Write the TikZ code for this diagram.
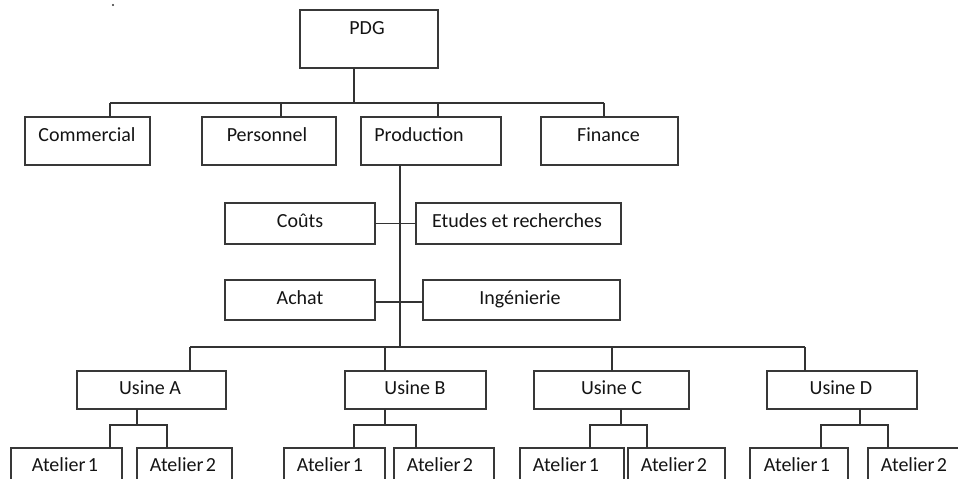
\documentclass[tikz,border=0pt]{standalone}
\usepackage{fontspec}
\setmainfont{Carlito}
\begin{document}
\begin{tikzpicture}[x=1pt,y=-1pt,
  box/.style={draw=black!78,line width=1.1pt,fill=white,rectangle,inner sep=0pt,outer sep=0pt},
  txt/.style={anchor=base,inner sep=0pt,text=black!92,font=\fontsize{20}{24}\selectfont},
  link/.style={draw=black!80,line width=1.1pt}]
\useasboundingbox (0,0) rectangle (958,479);
\clip (0,0) rectangle (958,479);
% stray dot
\fill[black!80] (113,5) circle (1.1);
% top
\node[box,minimum width=138pt,minimum height=58pt] (pdg) at (369,39) {};
\node[txt] (pdgt) at (367,34) {PDG};
\node[box,minimum width=125pt,minimum height=48pt] (comm) at (87.5,141) {};
\node[txt] (commt) at (87,141) {Commercial};
\node[box,minimum width=134pt,minimum height=48pt] (pers) at (269,141) {};
\node[txt] (perst) at (267,141) {Personnel};
\node[box,minimum width=140pt,minimum height=48pt] (prod) at (431,141) {};
\node[txt] (prodt) at (419,141) {Production};
\node[box,minimum width=137pt,minimum height=48pt] (fin) at (609.5,141) {};
\node[txt] (fint) at (608.5,141) {Finance};
% middle
\node[box,minimum width=150pt,minimum height=41pt] (cout) at (300,223.5) {};
\node[txt] (coutt) at (300,227) {Coûts};
\node[box,minimum width=205pt,minimum height=41pt] (etud) at (518.5,223.5) {};
\node[txt] (etudt) at (517,227) {Etudes et recherches};
\node[box,minimum width=150pt,minimum height=40pt] (achat) at (300,300) {};
\node[txt] (achatt) at (300,304) {Achat};
\node[box,minimum width=197pt,minimum height=40pt] (ing) at (521.5,300) {};
\node[txt] (ingt) at (520,304) {Ingénierie};
% usines
\node[box,minimum width=149pt,minimum height=38pt] (usA) at (151.5,390) {};
\node[txt] (usAt) at (150,394) {Usine A};
\node[box,minimum width=141pt,minimum height=38pt] (usB) at (415.5,390) {};
\node[txt] (usBt) at (415,394) {Usine B};
\node[box,minimum width=155pt,minimum height=38pt] (usC) at (611.5,390) {};
\node[txt] (usCt) at (611.5,394) {Usine C};
\node[box,minimum width=150pt,minimum height=38pt] (usD) at (842,390) {};
\node[txt] (usDt) at (841,394) {Usine D};
% ateliers
\node[box,minimum width=111pt,minimum height=62pt] (a1A) at (66.5,479) {};
\node[txt] (a1At) at (65,471) {Atelier\kern0.12em1};
\node[box,minimum width=95pt,minimum height=62pt] (a2A) at (184.5,479) {};
\node[txt] (a2At) at (183,471) {Atelier\kern0.12em2};
\node[box,minimum width=101pt,minimum height=62pt] (a1B) at (334.5,479) {};
\node[txt] (a1Bt) at (330,471) {Atelier\kern0.12em1};
\node[box,minimum width=100pt,minimum height=62pt] (a2B) at (444,479) {};
\node[txt] (a2Bt) at (440,471) {Atelier\kern0.12em2};
\node[box,minimum width=104pt,minimum height=62pt] (a1C) at (572,479) {};
\node[txt] (a1Ct) at (566,471) {Atelier\kern0.12em1};
\node[box,minimum width=97pt,minimum height=62pt] (a2C) at (676.5,479) {};
\node[txt] (a2Ct) at (674,471) {Atelier\kern0.12em2};
\node[box,minimum width=98pt,minimum height=62pt] (a1D) at (799,479) {};
\node[txt] (a1Dt) at (797,471) {Atelier\kern0.12em1};
\node[box,minimum width=122pt,minimum height=62pt] (a2D) at (929,479) {};
\node[txt] (a2Dt) at (914,471) {Atelier\kern0.12em2};
% top connectors
\coordinate (t0) at (354,103);
\coordinate (t1) at (110,103);
\coordinate (t2) at (281,103);
\coordinate (t3) at (438,103);
\coordinate (t4) at (604,103);
\draw[link] (pdg.south -| t0) -- (t0);
\draw[link] (t1) -- (t4);
\draw[link] (t1) -- (t1 |- comm.north);
\draw[link] (t2) -- (t2 |- pers.north);
\draw[link] (t3) -- (t3 |- prod.north);
\draw[link] (t4) -- (t4 |- fin.north);
% production spine
\coordinate (p0) at (400,347);
\draw[link] (prod.south -| p0) -- (p0);
\draw[link] (cout.east) -- (etud.west);
\draw[link] (achat.east |- 0,302) -- (ing.west |- 0,302);
% usine bus
\coordinate (u1) at (190,347);
\coordinate (u2) at (385,347);
\coordinate (u3) at (612,347);
\coordinate (u4) at (805,347);
\draw[link] (u1) -- (u4);
\draw[link] (u1) -- (u1 |- usA.north);
\draw[link] (u2) -- (u2 |- usB.north);
\draw[link] (u3) -- (u3 |- usC.north);
\draw[link] (u4) -- (u4 |- usD.north);
% atelier forks
\coordinate (fA) at (137,425); \coordinate (fA1) at (110,425); \coordinate (fA2) at (167,425);
\coordinate (fB) at (385,425); \coordinate (fB1) at (354,425); \coordinate (fB2) at (416,425);
\coordinate (fC) at (621,425); \coordinate (fC1) at (590,425); \coordinate (fC2) at (647,425);
\coordinate (fD) at (860,425); \coordinate (fD1) at (821,425); \coordinate (fD2) at (888,425);
\draw[link] (usA.south -| fA) -- (fA);
\draw[link] (fA1 |- a1A.north) -- (fA1) -- (fA2) -- (fA2 |- a2A.north);
\draw[link] (usB.south -| fB) -- (fB);
\draw[link] (fB1 |- a1B.north) -- (fB1) -- (fB2) -- (fB2 |- a2B.north);
\draw[link] (usC.south -| fC) -- (fC);
\draw[link] (fC1 |- a1C.north) -- (fC1) -- (fC2) -- (fC2 |- a2C.north);
\draw[link] (usD.south -| fD) -- (fD);
\draw[link] (fD1 |- a1D.north) -- (fD1) -- (fD2) -- (fD2 |- a2D.north);
\end{tikzpicture}
\end{document}
